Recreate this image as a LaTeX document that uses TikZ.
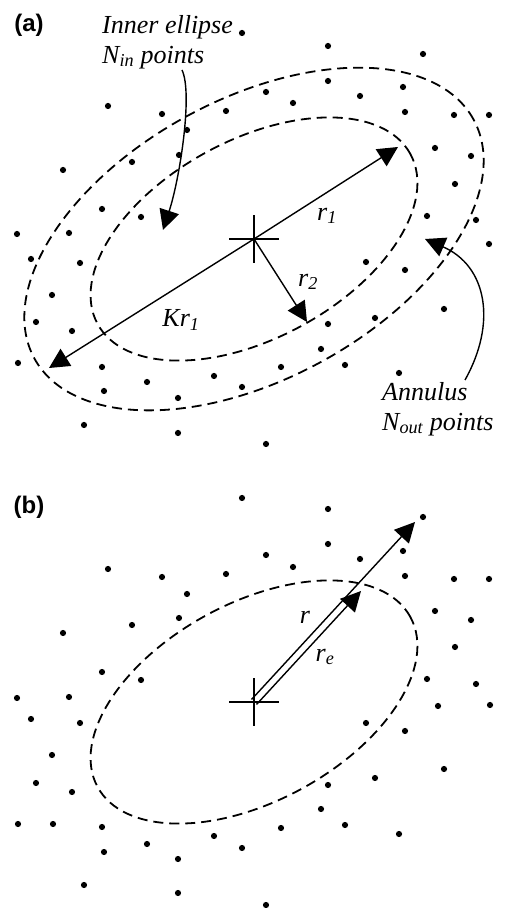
\documentclass[tikz,border=0pt]{standalone}
\usepackage{fontspec}
\setmainfont{Liberation Serif}
\newfontfamily\panelfont{Liberation Sans}
\usetikzlibrary{arrows.meta,positioning}

\newcommand{\isub}[2]{\textit{#1}\textsubscript{\textit{#2}}}

\begin{document}
\begin{tikzpicture}[
  x=1pt, y=1pt,
  ell/.style={dash pattern=on 10pt off 6pt, line width=1.8pt},
  vec/.style={-{Triangle[length=20pt,width=20pt]}, line width=1.4pt},
  cross/.style={line width=1.5pt},
  lbl/.style={font=\fontsize{26}{30}\selectfont\itshape, inner sep=0pt},
  note/.style={font=\fontsize{26}{30}\selectfont\itshape, inner sep=0pt, align=left, anchor=north west},
  panel/.style={font=\panelfont\bfseries\fontsize{24}{28}\selectfont, inner sep=0pt}
]
\useasboundingbox (0,0) rectangle (507,908);

% (a)
\coordinate (ca) at (254,669);
\coordinate (r1tip) at (398,761);
\coordinate (kr1tip) at (49,540);
\coordinate (r2tip) at (307,586);

\foreach \x/\y in {242/875,328/862,423/854,108/802,162/794,328/827,403/821,266/816,
  360/812,293/805,226/797,405/796,454/793,489/793,187/778,179/753,132/746,435/760,
  471/752,63/738,455/724,102/699,141/691,427/692,476/688,17/674,69/675,489/664,
  31/649,80/645,366/646,405/638,52/613,444/599,36/586,72/577,328/584,375/590,
  321/559,18/545,102/541,281/541,345/543,399/535,214/532,147/526,242/521,104/517,
  178/510,84/483,178/475,266/464}
  \fill (\x,\y) circle (3.1pt);

\draw[ell, rotate around={28.5:(ca)}] (ca) ellipse [x radius=178pt, y radius=99pt];
\draw[ell, rotate around={28.5:(ca)}] (ca) ellipse [x radius=250pt, y radius=140pt];

\draw[cross] (ca) +(-25,0) -- +(25,0) (ca) +(0,-24) -- +(0,24);
\draw[vec] (ca) -- (r1tip);
\draw[vec] (ca) -- (kr1tip);
\draw[vec] (ca) -- (r2tip);

\node[lbl] (r1lab) at (327,692) {\isub{r}{1}};
\node[lbl] (r2lab) at (308,626) {\isub{r}{2}};
\node[lbl] (kr1lab) at (181,588) {\textit{K}\isub{r}{1}};

\node[note] (inner) at (102,893) {Inner ellipse\\\isub{N}{in} points};
\node[note] (annulus) at (382,526) {Annulus\\\isub{N}{out} points};
\coordinate (innerfrom) at (182,838);
\coordinate (innerto) at (163,678);
\coordinate (annfrom) at (465,528);
\coordinate (annto) at (425,669);
\draw[vec] (innerfrom) .. controls (193,815) and (180,730) .. (innerto);
\draw[vec] (annfrom) .. controls (497,585) and (487,642) .. (annto);

\node[panel] (pa) at (29,883) {(a)};

% (b)
\coordinate (cb) at (254,206);
\coordinate (rstart) at (251.5,208.5);
\coordinate (rtip) at (415,386);
\coordinate (restart) at (256.5,203.5);
\coordinate (retip) at (361,317);

\foreach \x/\y in {242/410,328/399,423/391,328/364,403/357,266/353,360/349,108/339,
  293/341,162/331,226/334,405/332,454/329,489/329,187/314,435/297,471/288,179/290,
  132/283,63/275,455/261,102/236,141/228,427/229,476/224,17/210,69/211,438/202,
  490/203,31/189,80/185,366/185,405/177,52/153,444/139,36/125,72/116,375/130,
  328/123,321/99,18/84,53/84,102/81,281/80,345/83,399/74,214/72,147/64,242/60,
  104/56,178/49,84/23,178/15,266/3}
  \fill (\x,\y) circle (3.1pt);

\draw[ell, rotate around={28.5:(cb)}] (cb) ellipse [x radius=178pt, y radius=99pt];
\draw[cross] (cb) +(-25,0) -- +(25,0) (cb) +(0,-24) -- +(0,24);
\draw[vec] (rstart) -- (rtip);
\draw[vec] (restart) -- (retip);

\node[lbl] (rlab) at (305,291) {\textit{r}};
\node[lbl] (relab) at (325,251) {\isub{r}{e}};

\node[panel] (pb) at (29,401) {(b)};

\end{tikzpicture}
\end{document}
